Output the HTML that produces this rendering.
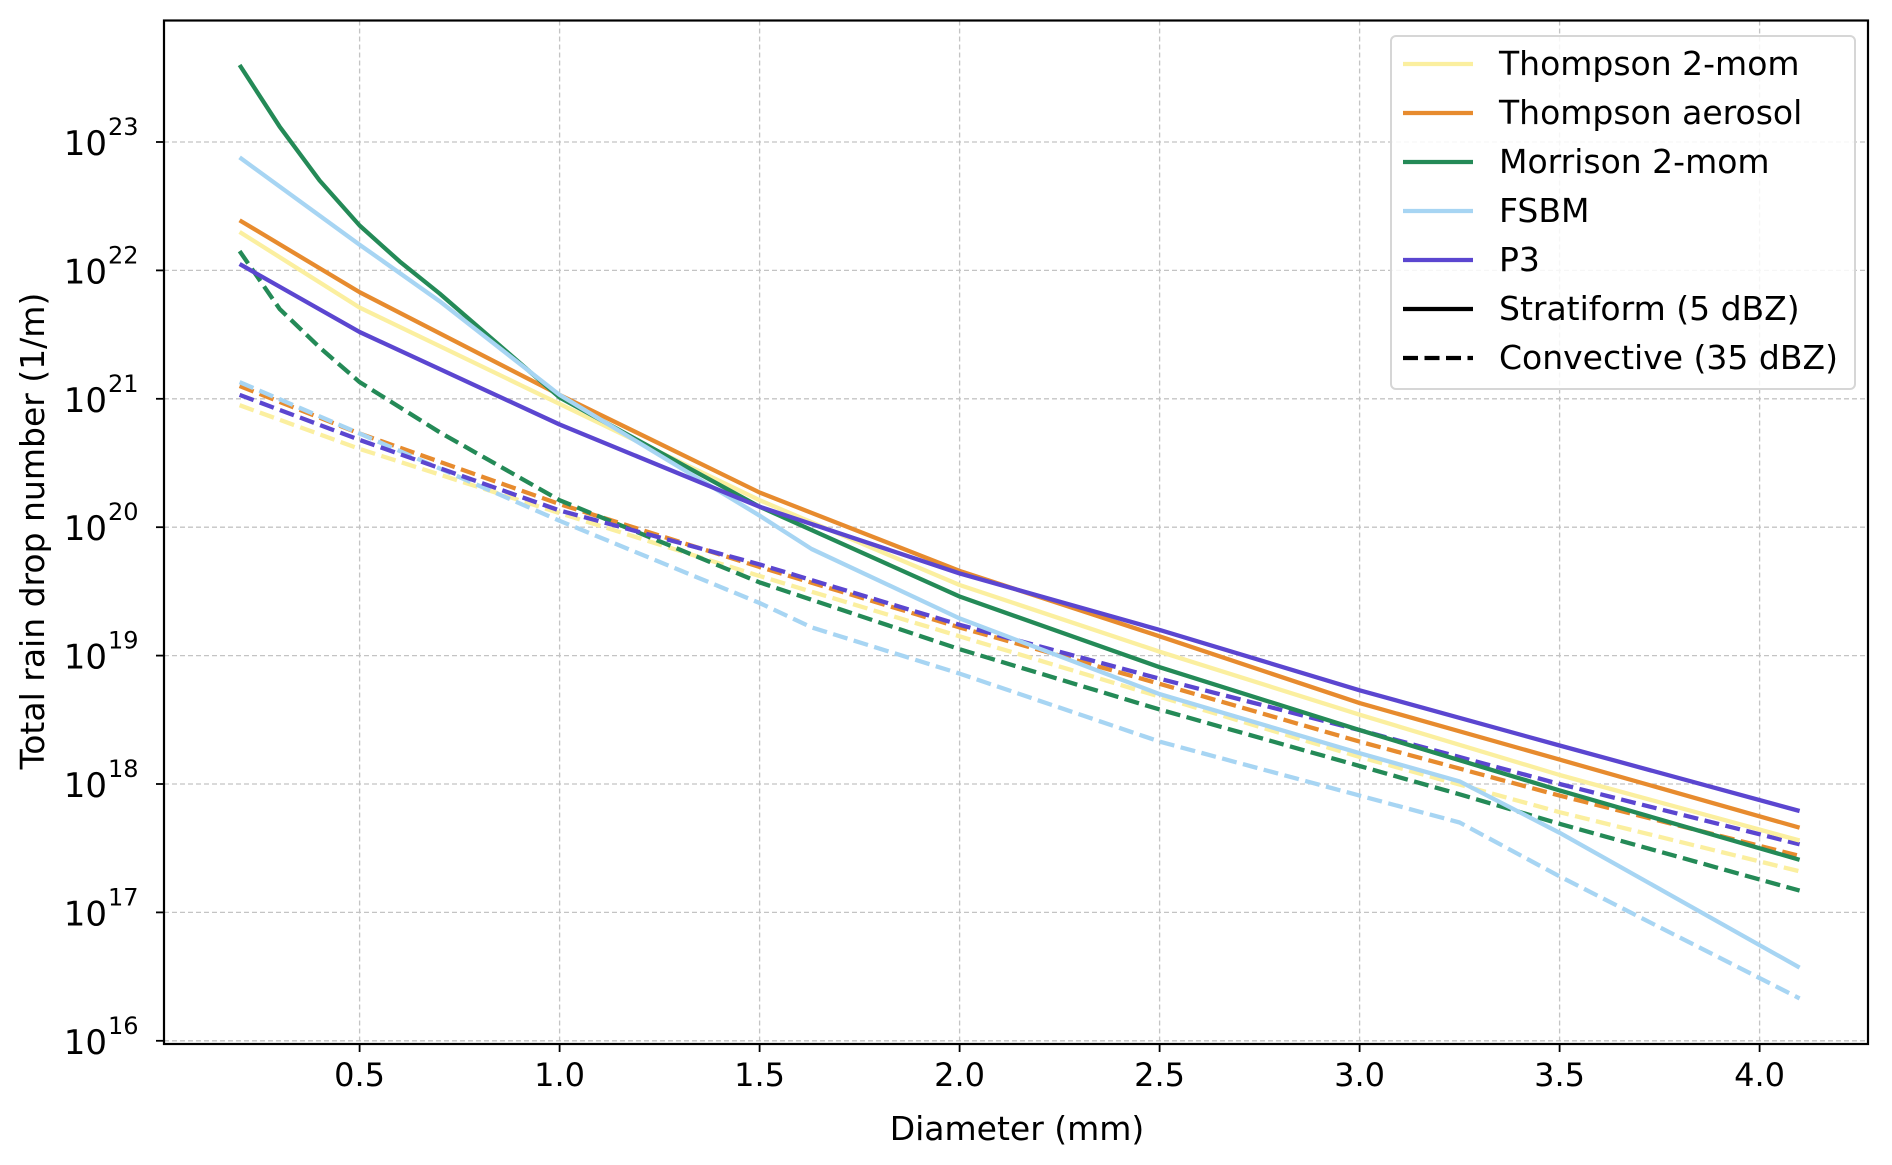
<!DOCTYPE html>
<html><head><meta charset="utf-8"><style>
html,body{margin:0;padding:0;background:#fff}
svg{display:block;font-family:"DejaVu Sans","Liberation Sans",sans-serif}
</style></head><body>
<svg id="chart" width="1892" height="1165" viewBox="0 0 1892 1165" xmlns="http://www.w3.org/2000/svg">
<g id="grid"></g>
<g id="series"></g>
<rect x="164" y="20.5" width="1704" height="1023.5" fill="none" stroke="#000" stroke-width="2.2"/>
<g id="ticks"></g>
<text x="1017" y="1140" font-size="33" text-anchor="middle">Diameter (mm)</text>
<text transform="translate(44,531) rotate(-90)" font-size="33" text-anchor="middle">Total rain drop number (1/m)</text>
<g>
<rect x="1391" y="36" width="464" height="353" rx="5" fill="#fff" fill-opacity="0.85" stroke="#d6d6d6" stroke-width="2"/>
<g id="legend-items"></g>
</g>
</svg>
<script>
const xFsbm = [0.2,0.5,0.7,1.0,1.5,1.63,2.0,2.5,3.0,3.25,3.5,4.1];
const xStd = [0.2,0.5,1.0,1.5,2.0,2.5,3.0,3.5,4.1];
const xMorS = [0.2,0.3,0.4,0.5,0.6,0.7,1.0,1.5,2.0,2.5,3.0,3.5,4.1];
const xMorD = [0.2,0.3,0.4,0.5,0.7,1.0,1.5,2.0,2.5,3.0,3.25,3.5,4.1];
// log10 values
const thomp2Strat = [22.30,21.71,20.96,20.21,19.55,19.03,18.54,18.07,17.56];
const thompAerStrat = [22.39,21.83,21.03,20.27,19.66,19.15,18.63,18.19,17.66];
const morrStrat = [23.60,23.12,22.70,22.35,22.07,21.82,21.01,20.16,19.46,18.91,18.42,17.95,17.41];
const fsbmStrat = [22.88,22.20,21.76,21.03,20.09,19.83,19.29,18.70,18.24,18.02,17.62,16.57];
const p3Strat = [22.05,21.52,20.80,20.16,19.64,19.20,18.73,18.30,17.79];
const thomp2Conv = [20.95,20.61,20.11,19.62,19.15,18.68,18.21,17.78,17.32];
const thompAerConv = [21.10,20.73,20.18,19.69,19.22,18.78,18.33,17.91,17.44];
const morrConv = [22.15,21.70,21.40,21.13,20.74,20.21,19.57,19.05,18.58,18.14,17.92,17.69,17.17];
const fsbmConv = [21.13,20.73,20.05,19.41,19.22,18.86,18.33,17.91,17.70,17.28,16.33];
const xFsbmC = [0.2,0.5,1.0,1.5,1.63,2.0,2.5,3.0,3.25,3.5,4.1];
const p3Conv = [21.03,20.68,20.13,19.71,19.24,18.82,18.42,18.00,17.53];
const xTicks = [0.5,1.0,1.5,2.0,2.5,3.0,3.5,4.0];
const xTickLabels = ["0.5","1.0","1.5","2.0","2.5","3.0","3.5","4.0"];
const yTicks = [16,17,18,19,20,21,22,23];
const legendNames = ["Thompson 2-mom","Thompson aerosol","Morrison 2-mom","FSBM","P3","Stratiform (5 dBZ)","Convective (35 dBZ)"];

const NS="http://www.w3.org/2000/svg";
const L=164,R=1868,T=20.5,B=1044;
const xs=v=>159.6+400*v;
const ys=v=>142-(v-23)*128.4;
function mk(t,a,p){const e=document.createElementNS(NS,t);for(const k in a)e.setAttribute(k,a[k]);p.appendChild(e);return e;}
const grid=document.getElementById('grid'),ticks=document.getElementById('ticks'),ser=document.getElementById('series');
xTicks.forEach((v,i)=>{
  const g=mk('line',{x1:xs(v),x2:xs(v),y1:T,y2:B,stroke:'#c4c4c4','stroke-width':1.3,'stroke-dasharray':'5,3'},grid);
  
  
  const t=mk('line',{x1:xs(v),x2:xs(v),y1:B,y2:B+8,stroke:'#000','stroke-width':1.8},ticks);
  
  
  const tx=mk('text',{x:xs(v),y:B+42,'font-size':32,'text-anchor':'middle'},ticks);
  tx.textContent=xTickLabels[i];
  
  
});
yTicks.forEach(v=>{
  const g=mk('line',{x1:L,x2:R,y1:ys(v),y2:ys(v),stroke:'#c4c4c4','stroke-width':1.3,'stroke-dasharray':'5,3'},grid);
  
  
  const t=mk('line',{x1:L-8,x2:L,y1:ys(v),y2:ys(v),stroke:'#000','stroke-width':1.8},ticks);
  
  
  const tx=mk('text',{x:L-57,y:ys(v)+13,'font-size':34,'text-anchor':'end'},ticks);
  tx.textContent='10';
  
  
  const sp=mk('text',{x:L-56,y:ys(v)-7,'font-size':24,'text-anchor':'start'},ticks);
  sp.textContent=String(v);
  
  
});
const C={y:'#fbef9f',o:'#e78b2e',g:'#248a57',b:'#a7d5f3',p:'#5b46d0'};
const S=[
 [xStd,thomp2Conv,C.y,1,'thompson-2mom-convective'],
 [xStd,thompAerConv,C.o,1,'thompson-aerosol-convective'],
 [xMorD,morrConv,C.g,1,'morrison-convective'],
 [xFsbmC,fsbmConv,C.b,1,'fsbm-convective'],
 [xStd,p3Conv,C.p,1,'p3-convective'],
 [xStd,thomp2Strat,C.y,0,'thompson-2mom-stratiform'],
 [xStd,thompAerStrat,C.o,0,'thompson-aerosol-stratiform'],
 [xMorS,morrStrat,C.g,0,'morrison-stratiform'],
 [xFsbm,fsbmStrat,C.b,0,'fsbm-stratiform'],
 [xStd,p3Strat,C.p,0,'p3-stratiform'],
];
S.forEach(s=>{
  const d=s[1].map((v,i)=>(i?'L':'M')+xs(s[0][i]).toFixed(1)+','+ys(v).toFixed(1)).join(' ');
  const a={d:d,fill:'none',stroke:s[2],'stroke-width':4.3,'stroke-linejoin':'round'};
  if(s[3])a['stroke-dasharray']='15,6.5';
  const p=mk('path',a,ser);
  
  
});
const li=document.getElementById('legend-items');
const lc=[C.y,C.o,C.g,C.b,C.p,'#000','#000'];
legendNames.forEach((n,i)=>{
  const y=64+i*49;
  const a={x1:1403,x2:1473,y1:y,y2:y,stroke:lc[i],'stroke-width':4.3};
  if(i==6)a['stroke-dasharray']='15,6.5';
  const ln=mk('line',a,li);
  
  
  const t=mk('text',{x:1499,y:y+11,'font-size':33},li);
  t.textContent=n;
  
  
});
</script>
</body></html>
